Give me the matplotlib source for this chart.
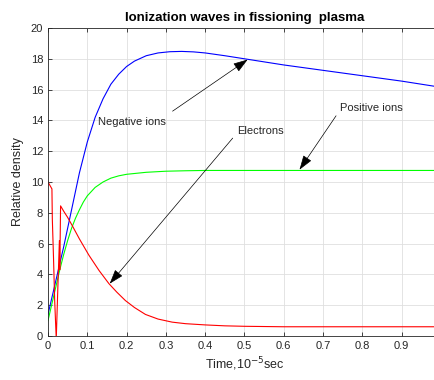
import numpy as np
import matplotlib
matplotlib.use("Agg")
import matplotlib.pyplot as plt

plt.rcParams['font.family'] = ['Liberation Sans', 'DejaVu Sans']

# time, 10^-5 sec
t_neg = [0, 0.02, 0.04, 0.06, 0.08, 0.1, 0.12, 0.14, 0.16, 0.18, 0.2, 0.22,
         0.25, 0.28, 0.31, 0.34, 0.37, 0.4, 0.45, 0.5, 0.6, 0.7, 0.8, 0.9, 1.0]
neg_ions = [1.4, 3.6, 5.8, 8.2, 10.6, 12.6, 14.2, 15.4, 16.35, 17.0, 17.5, 17.85,
            18.2, 18.38, 18.46, 18.48, 18.45, 18.38, 18.2, 18.0, 17.6, 17.25,
            16.9, 16.55, 16.15]

t_pos = [0, 0.01, 0.02, 0.03, 0.04, 0.05, 0.06, 0.07, 0.08, 0.09, 0.1, 0.12,
         0.14, 0.16, 0.18, 0.2, 0.25, 0.3, 0.35, 0.4, 0.6, 0.8, 1.0]
pos_ions = [1.0, 2.1, 3.2, 4.3, 5.3, 6.2, 7.0, 7.65, 8.2, 8.7, 9.1, 9.65,
            10.0, 10.25, 10.4, 10.5, 10.63, 10.7, 10.73, 10.75, 10.75, 10.75, 10.75]

t_el = [0, 0.01, 0.011, 0.014, 0.017, 0.021, 0.025, 0.029, 0.030, 0.032, 0.04,
        0.05, 0.061, 0.08, 0.104, 0.13, 0.155, 0.175, 0.197, 0.22, 0.248, 0.28,
        0.316, 0.35, 0.4, 0.45, 0.5, 0.6, 0.7, 0.8, 0.9, 1.0]
electrons = [10.0, 9.55, 7.6, 5.1, 2.3, -0.2, 3.1, 6.2, 4.3, 8.45, 8.1,
             7.7, 7.2, 6.3, 5.25, 4.25, 3.4, 2.85, 2.3, 1.85, 1.4, 1.1,
             0.9, 0.8, 0.72, 0.66, 0.63, 0.6, 0.6, 0.6, 0.6, 0.6]

fig = plt.figure(figsize=(4.35, 3.8), dpi=100)
ax = fig.add_axes([48 / 435, 1 - 336 / 380, 393 / 435, 308 / 380])

ax.plot(t_neg, neg_ions, color='b', lw=0.8)
ax.plot(t_pos, pos_ions, color='#00ff00', lw=0.8)
ax.plot(t_el, electrons, color='r', lw=0.8)

ax.set_xlim(0, 1)
ax.set_ylim(0, 20)
ax.set_xticks(np.arange(0, 1.0, 0.1))
ax.set_xticklabels(['0', '0.1', '0.2', '0.3', '0.4', '0.5', '0.6', '0.7', '0.8', '0.9'])
ax.set_yticks(np.arange(0, 21, 2))
ax.grid(True, color='#dfdfdf', lw=0.6)
ax.set_axisbelow(True)
ax.tick_params(direction='in', length=3, width=0.6, labelsize=8,
               colors='#262626', top=True, right=True)
for s in ax.spines.values():
    s.set_color('#262626')
    s.set_linewidth(0.6)

ax.set_title('Ionization waves in fissioning  plasma', fontsize=9.5,
             fontweight='bold', pad=5)
ax.set_xlabel('Time,10$^{-5}$sec', fontsize=9, color='#262626', labelpad=3)
ax.set_ylabel('Relative density', fontsize=9, color='#262626', labelpad=5)

arw = dict(arrowstyle='-|>,head_length=0.9,head_width=0.3', color='k', lw=0.5,
           shrinkA=0, shrinkB=0, mutation_scale=10)
ax.text(0.127, 13.9, 'Negative ions', fontsize=8, color='#262626', va='center')
ax.annotate('', xy=(0.508, 17.95), xytext=(0.317, 14.6), arrowprops=arw)
ax.text(0.482, 13.3, 'Electrons', fontsize=8, color='#262626', va='center')
ax.annotate('', xy=(0.157, 3.4), xytext=(0.47, 12.85), arrowprops=arw)
ax.text(0.744, 14.8, 'Positive ions', fontsize=8, color='#262626', va='center')
ax.annotate('', xy=(0.64, 10.8), xytext=(0.733, 14.3), arrowprops=arw)

fig.savefig('out.png', dpi=100)
